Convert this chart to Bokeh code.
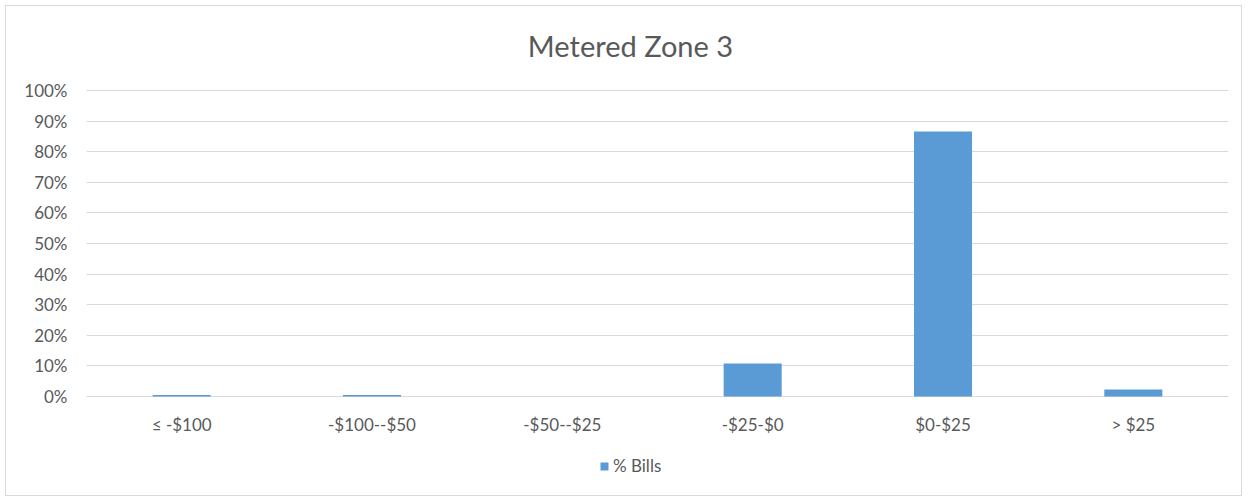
from bokeh.plotting import figure
from bokeh.models import (ColumnDataSource, FactorRange, Range1d, FixedTicker,
                          NumeralTickFormatter, Legend, LegendItem, Label)
from bokeh.embed import file_html
from bokeh.resources import INLINE

# Share of bills by bill-change bucket
categories = ["≤ -$100", "-$100--$50", "-$50--$25", "-$25-$0", "$0-$25", "> $25"]
pct_bills = [0.005, 0.005, 0.0, 0.108, 0.866, 0.023]
series_name = "% Bills"
title_text = "Metered Zone 3"

FONT = "Lato"
TEXT = "#595959"
GRID = "#d9d9d9"
BAR = "#5b9bd5"

source = ColumnDataSource(data=dict(cat=categories, val=pct_bills))

# The plot area spans the full height of the chart: the title sits above 100%
# and the category labels and legend below 0%, with the category axis pinned at 0.
PX = 306.0  # pixels per 100%
p = figure(
    width=1237, height=491,
    x_range=FactorRange(*categories, range_padding=0),
    y_range=Range1d(-94 / PX, 1 + 84 / PX),
    output_backend="svg", toolbar_location=None,
    min_border_left=80, min_border_right=15,
    min_border_top=0, min_border_bottom=7,
)
p.styles = {"border": "1px solid #d9d9d9", "margin-left": "5px", "margin-top": "5px"}
p.outline_line_color = None
p.background_fill_color = "white"
p.border_fill_color = "white"

r = p.vbar(x="cat", top="val", width=0.305, source=source,
           fill_color=BAR, line_color=None, level="overlay")

# Chart title, centred over the chart
p.add_layout(Label(x=2.858, y=1 + 45 / PX, text=title_text,
                   text_font=FONT, text_font_size="29px", text_color=TEXT,
                   text_align="center", text_baseline="middle"))

# Axes
p.yaxis.ticker = FixedTicker(ticks=[i / 10 for i in range(11)])
p.yaxis.formatter = NumeralTickFormatter(format="0%")
p.yaxis.axis_line_color = None
p.yaxis.major_tick_line_color = None
p.yaxis.minor_tick_line_color = None
p.yaxis.major_label_text_font = FONT
p.yaxis.major_label_text_font_size = "17px"
p.yaxis.major_label_text_color = TEXT
p.yaxis.major_label_standoff = 13

p.xaxis.fixed_location = 0
p.xaxis.axis_line_color = GRID
p.xaxis.major_tick_line_color = None
p.xaxis.minor_tick_line_color = None
p.xaxis.major_label_text_font = FONT
p.xaxis.major_label_text_font_size = "17px"
p.xaxis.major_label_text_color = TEXT
p.xaxis.major_label_standoff = 11

p.xgrid.grid_line_color = None
p.ygrid.grid_line_color = GRID
p.ygrid.grid_line_width = 1

# Legend under the category labels
legend = Legend(items=[LegendItem(label=series_name, renderers=[r])],
                location=(513, 14), orientation="horizontal",
                label_text_font=FONT, label_text_font_size="17px",
                label_text_color=TEXT, glyph_width=10, glyph_height=10,
                label_standoff=4, padding=0, margin=0,
                spacing=0, border_line_color=None, background_fill_alpha=0)
p.add_layout(legend, "center")

open("out.html", "w").write(file_html(p, INLINE))
